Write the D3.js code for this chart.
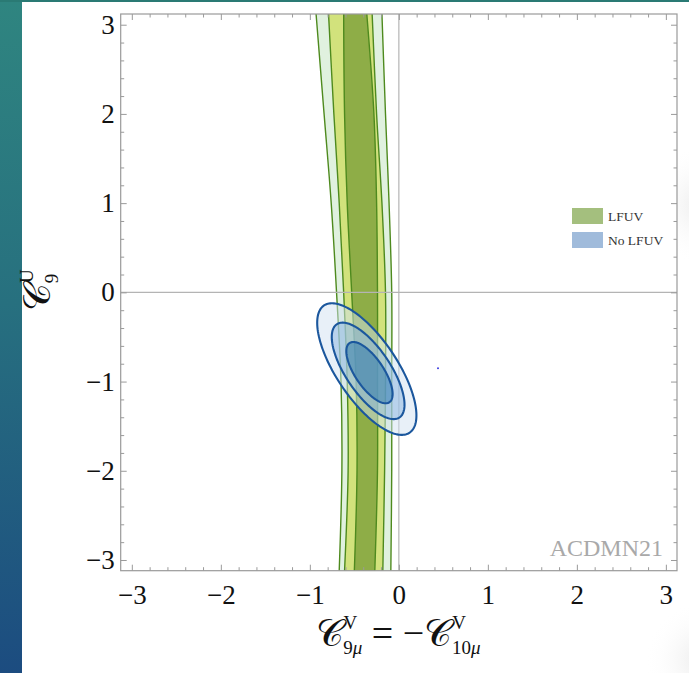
<!DOCTYPE html>
<html>
<head>
<meta charset="utf-8">
<script src="https://cdn.jsdelivr.net/npm/d3@7"></script>
<style>
  html, body { margin: 0; padding: 0; background: #fff; }
  svg { display: block; }
</style>
</head>
<body>
<svg id="chart" width="689" height="673"></svg>
<script>
// ---- Data -------------------------------------------------------------
// Axis ranges and ticks
const xDomain = [-3.125, 3.125];
const yDomain = [-3.12, 3.12];
const majorTicks = [-3, -2, -1, 0, 1, 2, 3];
const minorTicks = [-2.8, -2.6, -2.4, -2.2, -1.8, -1.6, -1.4, -1.2, -0.8, -0.6, -0.4, -0.2,
                    0.2, 0.4, 0.6, 0.8, 1.2, 1.4, 1.6, 1.8, 2.2, 2.4, 2.6, 2.8];

// LFUV band: left / right edges (C9muV) at each C9U level, for 3σ, 2σ, 1σ
const lfuvY        = [3.12, 2, 1, 0, -1, -2, -3.12];
const lfuv3sLeft   = [-0.93, -0.84, -0.76, -0.70, -0.65, -0.64, -0.67];
const lfuv3sRight  = [-0.19, -0.15, -0.11, -0.08, -0.08, -0.08, -0.09];
const lfuv2sLeft   = [-0.79, -0.73, -0.67, -0.62, -0.58, -0.57, -0.61];
const lfuv2sRight  = [-0.30, -0.25, -0.19, -0.15, -0.15, -0.16, -0.18];
const lfuv1sLeft   = [-0.62, -0.61, -0.58, -0.53, -0.48, -0.47, -0.50];
const lfuv1sRight  = [-0.36, -0.28, -0.25, -0.24, -0.24, -0.24, -0.27];

// No-LFUV contours (ellipses) for 3σ, 2σ, 1σ
const noLfuvCx        = [-0.36, -0.345, -0.33];
const noLfuvCy        = [-0.86, -0.88, -0.90];
const noLfuvSemiMajor = [0.86, 0.63, 0.40];
const noLfuvSemiMinor = [0.34, 0.25, 0.16];
const noLfuvAngleDeg  = -56;

// Isolated point
const markerPoint = [0.44, -0.85];

const legendLabels = ["LFUV", "No LFUV"];
const legendColors = ["#a4bf7e", "#a0bbdb"];

// ---- Layout -----------------------------------------------------------
const svg = d3.select("#chart");
const W = 689, H = 673;
const plot = { left: 120.7, right: 677, top: 14, bottom: 570.7 };

const x = d3.scaleLinear().domain(xDomain).range([plot.left, plot.right]);
const y = d3.scaleLinear().domain(yDomain).range([plot.bottom, plot.top]);

// Page decoration: gradient strip on the left, thin rule on top, faint shading on the right
const defs = svg.append("defs");
const grad = defs.append("linearGradient").attr("id", "sideGrad")
  .attr("x1", 0).attr("y1", 0).attr("x2", 0).attr("y2", 1);
grad.append("stop").attr("offset", "0%").attr("stop-color", "#2f8580");
grad.append("stop").attr("offset", "45%").attr("stop-color", "#27707f");
grad.append("stop").attr("offset", "100%").attr("stop-color", "#1c4c80");
const haze = defs.append("radialGradient").attr("id", "haze");
haze.append("stop").attr("offset", "0%").attr("stop-color", "#e4e4e4").attr("stop-opacity", 0.8);
haze.append("stop").attr("offset", "100%").attr("stop-color", "#ffffff").attr("stop-opacity", 0);
svg.append("circle").attr("cx", 705).attr("cy", 205).attr("r", 60).attr("fill", "url(#haze)");
svg.append("circle").attr("cx", 705).attr("cy", 660).attr("r", 60).attr("fill", "url(#haze)");

svg.append("rect").attr("x", 0).attr("y", 0).attr("width", 22).attr("height", H)
  .attr("fill", "url(#sideGrad)");
svg.append("rect").attr("x", 0).attr("y", 0).attr("width", W).attr("height", 2)
  .attr("fill", "#2a7a74");

defs.append("clipPath").attr("id", "plotClip").append("rect")
  .attr("x", plot.left).attr("y", plot.top)
  .attr("width", plot.right - plot.left).attr("height", plot.bottom - plot.top);

const g = svg.append("g").attr("clip-path", "url(#plotClip)");
g.append("rect").attr("x", plot.left).attr("y", plot.top)
  .attr("width", plot.right - plot.left).attr("height", plot.bottom - plot.top)
  .attr("fill", "#fff");

// ---- LFUV bands -------------------------------------------------------
const bandLevels = [
  { left: lfuv3sLeft, right: lfuv3sRight, fill: "#e0f1df" },
  { left: lfuv2sLeft, right: lfuv2sRight, fill: "#d2e27c" },
  { left: lfuv1sLeft, right: lfuv1sRight, fill: "#8ead47" }
];
const bandArea = d3.area()
  .y(d => y(d.y)).x0(d => x(d.l)).x1(d => x(d.r))
  .curve(d3.curveCatmullRom);
const edgeLine = d3.line().y(d => y(d.y)).x(d => x(d.v)).curve(d3.curveCatmullRom);

bandLevels.forEach(b => {
  const rows = lfuvY.map((yy, i) => ({ y: yy, l: b.left[i], r: b.right[i] }));
  g.append("path").attr("d", bandArea(rows)).attr("fill", b.fill);
});
bandLevels.forEach(b => {
  ["left", "right"].forEach(side => {
    const rows = lfuvY.map((yy, i) => ({ y: yy, v: b[side][i] }));
    g.append("path").attr("d", edgeLine(rows))
      .attr("fill", "none").attr("stroke", "#4e8a1e").attr("stroke-width", 1.4);
  });
});

// ---- Zero lines -------------------------------------------------------
g.append("line").attr("x1", x(0)).attr("x2", x(0)).attr("y1", plot.top).attr("y2", plot.bottom)
  .attr("stroke", "#b4b4b4").attr("stroke-width", 1.2);
g.append("line").attr("x1", plot.left).attr("x2", plot.right).attr("y1", y(0)).attr("y2", y(0))
  .attr("stroke", "#b4b4b4").attr("stroke-width", 1.2);

// ---- No LFUV ellipses -------------------------------------------------
const ellFills = ["#d2e2f2", "#88b4e0", "#2674ac"];
const phi = noLfuvAngleDeg * Math.PI / 180;
const thetas = d3.range(0, 2 * Math.PI, Math.PI / 90);
const ellLine = d3.line().x(d => x(d[0])).y(d => y(d[1])).curve(d3.curveLinearClosed);
noLfuvCx.forEach((cx, i) => {
  const a = noLfuvSemiMajor[i], b = noLfuvSemiMinor[i], cy = noLfuvCy[i];
  const pts = thetas.map(t => [
    cx + a * Math.cos(t) * Math.cos(phi) - b * Math.sin(t) * Math.sin(phi),
    cy + a * Math.cos(t) * Math.sin(phi) + b * Math.sin(t) * Math.cos(phi)
  ]);
  g.append("path").attr("d", ellLine(pts))
    .attr("fill", ellFills[i]).attr("fill-opacity", 0.5)
    .attr("stroke", "#1b579d").attr("stroke-width", 2.1);
});

g.append("circle").attr("cx", x(markerPoint[0])).attr("cy", y(markerPoint[1]))
  .attr("r", 1).attr("fill", "#3a3ae0");

// ---- Frame and ticks --------------------------------------------------
const frameColor = "#9a9a9a";
const tickFont = "'Liberation Serif', 'Times New Roman', serif";
function styleAxis(sel) {
  sel.select(".domain").remove();
  sel.selectAll(".tick line").attr("stroke", frameColor).attr("stroke-width", 1);
}
const fmt = d => (d < 0 ? "\u2212" + Math.abs(d) : String(d));

svg.append("g").attr("transform", `translate(0,${plot.bottom})`)
  .call(d3.axisBottom(x).tickValues(majorTicks).tickSize(-6).tickPadding(14).tickFormat(fmt))
  .call(styleAxis)
  .call(s => s.selectAll("text").attr("font-family", tickFont).attr("font-size", 27).attr("fill", "#111"));
svg.append("g").attr("transform", `translate(0,${plot.bottom})`)
  .call(d3.axisBottom(x).tickValues(minorTicks).tickSize(-3.5).tickFormat(""))
  .call(styleAxis);
svg.append("g").attr("transform", `translate(0,${plot.top})`)
  .call(d3.axisTop(x).tickValues(majorTicks).tickSize(-6).tickFormat(""))
  .call(styleAxis);
svg.append("g").attr("transform", `translate(0,${plot.top})`)
  .call(d3.axisTop(x).tickValues(minorTicks).tickSize(-3.5).tickFormat(""))
  .call(styleAxis);
svg.append("g").attr("transform", `translate(${plot.left},0)`)
  .call(d3.axisLeft(y).tickValues(majorTicks).tickSize(-6).tickPadding(6).tickFormat(fmt))
  .call(styleAxis)
  .call(s => s.selectAll("text").attr("font-family", tickFont).attr("font-size", 27).attr("fill", "#111"));
svg.append("g").attr("transform", `translate(${plot.left},0)`)
  .call(d3.axisLeft(y).tickValues(minorTicks).tickSize(-3.5).tickFormat(""))
  .call(styleAxis);
svg.append("g").attr("transform", `translate(${plot.right},0)`)
  .call(d3.axisRight(y).tickValues(majorTicks).tickSize(-6).tickFormat(""))
  .call(styleAxis);
svg.append("g").attr("transform", `translate(${plot.right},0)`)
  .call(d3.axisRight(y).tickValues(minorTicks).tickSize(-3.5).tickFormat(""))
  .call(styleAxis);

svg.append("rect").attr("x", plot.left).attr("y", plot.top)
  .attr("width", plot.right - plot.left).attr("height", plot.bottom - plot.top)
  .attr("fill", "none").attr("stroke", frameColor).attr("stroke-width", 1.2);

// ---- Legend -----------------------------------------------------------
const leg = svg.append("g").attr("transform", "translate(572,208)");
legendLabels.forEach((lab, i) => {
  const row = leg.append("g").attr("transform", `translate(0,${i * 24})`);
  row.append("rect").attr("width", 31).attr("height", 16).attr("fill", legendColors[i]);
  row.append("text").attr("x", 36).attr("y", 13).text(lab)
    .attr("font-family", tickFont).attr("font-size", 13.5).attr("fill", "#333");
});

// ---- Watermark --------------------------------------------------------
svg.append("text").attr("x", 663).attr("y", 556).attr("text-anchor", "end")
  .attr("font-family", tickFont).attr("font-size", 24).attr("fill", "#a9a9a9")
  .text("ACDMN21");

// ---- Axis titles ------------------------------------------------------
const scriptFont = "'DejaVu Serif', 'DejaVu Sans', 'Liberation Serif', serif";
const xt = svg.append("text").attr("x", 398).attr("y", 646).attr("text-anchor", "middle")
  .attr("font-family", tickFont).attr("font-size", 38).attr("fill", "#111");
xt.append("tspan").attr("font-family", scriptFont).text("\u{1D49E}");
xt.append("tspan").attr("font-size", 19).attr("dy", -17).text("V");
xt.append("tspan").attr("font-size", 19).attr("dx", -14).attr("dy", 25).text("9");
xt.append("tspan").attr("font-size", 19).attr("font-style", "italic").text("\u03BC");
xt.append("tspan").attr("dy", -8).text(" = \u2212");
xt.append("tspan").attr("font-family", scriptFont).text("\u{1D49E}");
xt.append("tspan").attr("font-size", 19).attr("dy", -17).text("V");
xt.append("tspan").attr("font-size", 19).attr("dx", -14).attr("dy", 25).text("10");
xt.append("tspan").attr("font-size", 19).attr("font-style", "italic").text("\u03BC");

const yt = svg.append("text").attr("transform", "translate(50,290) rotate(-90)")
  .attr("text-anchor", "middle")
  .attr("font-family", tickFont).attr("font-size", 38).attr("fill", "#111");
yt.append("tspan").attr("font-family", scriptFont).text("\u{1D49E}");
yt.append("tspan").attr("font-size", 19).attr("dy", -17).text("U");
yt.append("tspan").attr("font-size", 19).attr("dx", -14).attr("dy", 25).text("9");
</script>
</body>
</html>
